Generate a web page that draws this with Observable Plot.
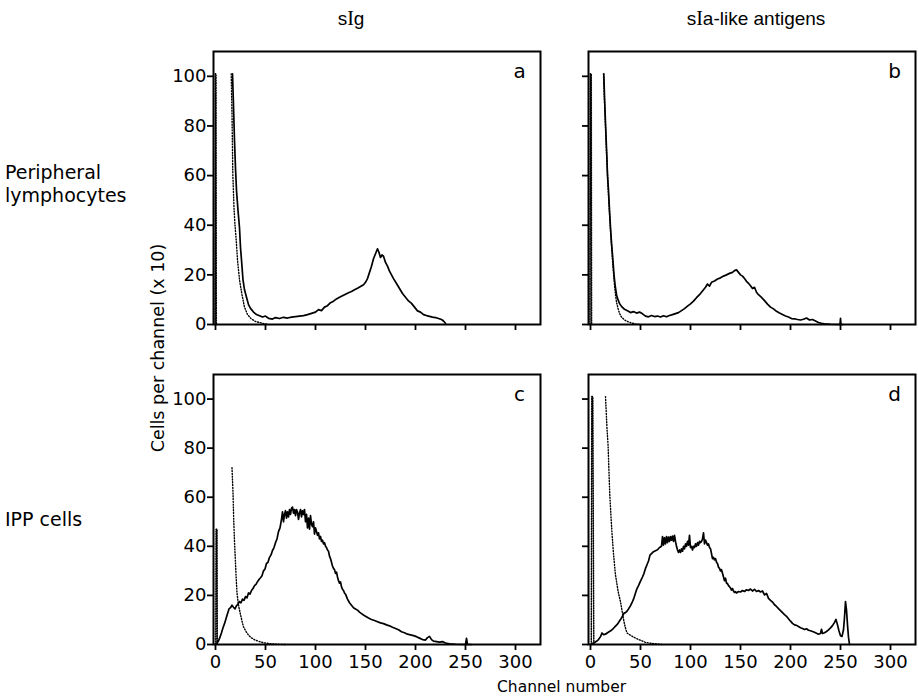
<!DOCTYPE html>
<html>
<head>
<meta charset="utf-8">
<script src="https://cdn.jsdelivr.net/npm/d3@7"></script>
<script src="https://cdn.jsdelivr.net/npm/@observablehq/plot@0.6"></script>
<style>
  html, body { margin: 0; padding: 0; background: #fff; }
  #fig { position: relative; width: 918px; height: 696px; overflow: hidden; font-family: "DejaVu Sans", sans-serif; color: #000; }
  .lbl { position: absolute; white-space: nowrap; line-height: 1; }
  .panel { position: absolute; }
</style>
</head>
<body>
<div id="fig">
  <div class="lbl" style="left:351px; top:18px; transform:translate(-50%,-50%); font-family:'Liberation Sans'; font-size:19px;">s<span style="font-family:'Liberation Serif'; font-size:20px;">I</span>g</div>
  <div class="lbl" style="left:756px; top:18px; transform:translate(-50%,-50%); font-family:'Liberation Sans'; font-size:19px;">s<span style="font-family:'Liberation Serif'; font-size:20px;">I</span>a-like antigens</div>
  <div class="lbl" style="left:5px; top:161px; font-size:19px; line-height:23px;">Peripheral<br>lymphocytes</div>
  <div class="lbl" style="left:5px; top:510px; font-size:19px;">IPP cells</div>
  <div class="lbl" style="left:159px; top:348px; transform:translate(-50%,-50%) rotate(-90deg); font-size:17.5px;">Cells per channel (x 10)</div>
  <div class="lbl" style="left:497px; top:680px; font-size:15.5px;">Channel number</div>
</div>
<script>
// ---- data (channel number, cells per channel x10) ----
const xTicks = [0, 50, 100, 150, 200, 250, 300];
const yTicks = [0, 20, 40, 60, 80, 100];
const panelLetters = ["a", "b", "c", "d"];

const aSolid = [[17,101],[18,88],[19,74],[20,63],[21,54],[22.5,46],[24,39],[25,31],[26,26],[27.5,18],[29,14],[31,11],[33,8],[35,6.5],[38,5],[41,4],[44,3.5],[47,3],[50,3.4],[53,2.5],[57,2.2],[60,2.8],[64,2.4],[68,2.9],[72,2.6],[76,3],[80,3.2],[84,3.4],[88,3.6],[92,4],[96,4.5],[100,5],[103,6],[106,5.6],[109,7],[112,7.6],[115,8.8],[118,9.4],[121,10.3],[124,11],[127,11.6],[130,12.2],[133,12.8],[136,13.3],[139,14],[142,14.6],[145,15.3],[148,16],[150,17],[152,18.5],[154,21],[156,23.5],[158,26.5],[160,28.5],[162,30.5],[163.5,29],[165,27],[166.5,28],[168,27.5],[170,25],[172,23.5],[174,21.5],[176,20],[178,18.5],[181,16.5],[184,14.5],[187,12.5],[190,11],[193,9.5],[196,8.5],[199,7],[202,5.5],[205,5],[208,4],[211,3.6],[214,3.3],[217,3],[220,2.8],[223,2.4],[226,2],[228,1.4],[230,0.5]];
const aDot = [[15.7,101],[16.5,85],[17.3,61],[18.5,47],[19.5,40],[20.7,34],[22,26],[24,18],[26.5,12],[29,7],[32,4],[35.7,2.3],[40,1.2],[47,0.5],[52,0]];
const aSpike = [[-0.5,0],[-0.2,101],[0.5,101],[0.8,0]];

const bSolid = [[13.3,101],[14,92],[15,81],[16.3,68],[17,60],[18,54],[19,46],[20,39],[21,33],[22.3,26.5],[23.5,20],[24.7,15.6],[26,12],[27.3,10.2],[29,8.5],[31,7.3],[34,6.1],[37,5.5],[40,4.8],[43,5.2],[46,4.6],[49,5],[52,4.3],[55,3.4],[58,3.1],[61,3.6],[64,3.2],[67,3.4],[70,3],[73,3.5],[76,3.1],[79,3.6],[82,4],[85,4.4],[88,4.8],[91,5.6],[94,6.4],[97,7.4],[100,8.3],[103,9.4],[106,10.8],[109,12],[112,13.5],[115,15],[117,16.3],[119,15.5],[121,17],[124,17.5],[127,18.3],[130,18.8],[133,19.5],[136,20],[139,20.6],[142,21],[144,21.7],[146,22],[148,21],[150,20],[152,19.5],[154,18.5],[156,17.4],[158,16.6],[160,15.6],[162,14.5],[164,15],[166,13],[168,12],[171,10.9],[174,9.6],[177,8.2],[180,7],[183,6.3],[186,5.3],[189,4.6],[192,4],[195,3.4],[198,3],[201,2.4],[204,2.3],[207,2],[210,1.8],[213,2.1],[216,2.6],[219,1.8],[222,2],[225,1.4],[228,0.8],[231,0.5],[234,0.3],[240,0.1],[248,0],[249.5,0],[250,2.5],[250.5,0],[252,0]];
const bDot = [[13,101],[14,90],[15,80],[16,70],[17,61],[18,52],[19,45],[20,38],[21,32],[22,26],[23,21],[24,16],[25,12],[26,9],[27.5,6.5],[29,4.5],[31,3],[34,1.8],[37,1.2],[41,0.6],[45,0.2],[50,0]];
const bSpike = [[-0.5,0],[-0.2,101],[0.8,101],[1.1,0]];

const cSolid = [[0,0],[1.5,0.5],[3,1.5],[4.5,3],[6,4.8],[7.5,6.8],[9,8.5],[10.5,10.5],[12,12.5],[13.5,14.5],[15,15],[16.5,16],[18,15.2],[19.5,14.5],[21,15.8],[22.5,16.5],[24,17.5],[25.5,17],[27,18.5],[28.5,18],[30,19.5],[31.5,19],[33,21],[34.5,20.5],[36,22],[37.5,22.8],[39,24],[40.5,24.5],[42,25.6],[43.5,26.5],[45,27.2],[46.5,28],[48,30],[49.5,30.8],[51,33],[52.5,33.5],[54,35.5],[55.5,36.5],[57,38.3],[58.5,39.5],[60,41.5],[61.5,43],[63,46],[64.5,47.5],[66,51],[67,54],[68,50],[69,53],[70,54.5],[71,51.5],[72,54],[73,52],[74,55],[75,53],[76,55.5],[77,56],[78,53.5],[79,55],[80,52.5],[81,55],[82,54],[83,51],[84,53.5],[85,55],[86,52],[87,54.5],[88,53],[89,55],[90,50],[91,53],[92,47.5],[93,51.5],[94,47],[95,52.5],[96,49],[97,48],[98,50],[99,45],[100,47.5],[101,46],[102,44.5],[103,45.5],[104,43],[105,44],[106,42],[107,42.5],[108,41],[109,41.5],[110,40],[111,39.5],[112,38.5],[113,38],[114,36],[115,35],[116,33.5],[117,32],[118,31],[119,30.5],[120,29],[121,29.5],[122,27.5],[123,26],[124,25],[125,25.5],[126,23.5],[127,22.5],[128,22],[129,21],[130,20.5],[131,19.5],[132,18.5],[134,17],[136,16],[138,15],[140,14.5],[142,14],[144,13.2],[146,12.6],[148,12],[150,11.5],[153,10.8],[156,10.2],[159,9.8],[162,9.3],[165,8.8],[168,8.5],[171,8],[174,7.6],[177,7],[180,6.5],[183,6],[186,5.2],[189,4.8],[192,4.2],[195,3.9],[198,3.6],[201,3.2],[204,2.6],[207,2],[210,1.8],[212,2.8],[214,3.3],[216,2],[218,1.4],[221,1.2],[224,1],[227,1.2],[230,0.6],[234,0.3],[240,0.1],[250,0],[251,2.5],[252,0],[256,0]];
const cDot = [[16.5,72],[17.5,62],[18.2,51],[19,42],[19.9,34],[20.7,27],[21.5,21],[23,16],[24.8,12.6],[26.5,9.5],[28,7.2],[30.5,5.3],[33,3.8],[36,2.7],[39.7,1.8],[44,1.2],[48,0.7],[55,0.3],[61,0.1],[70,0]];
const cSpike = [[0.3,0],[0.6,47],[1.5,47],[1.8,0]];

const dSolid = [[0,0],[2,0.4],[4,0.8],[6,1.3],[8,2],[10,3.2],[11.5,4.7],[13,4],[15,4.2],[17,4.8],[19,5.3],[21,5.8],[23,6.6],[25,7.5],[27,8.3],[29,9.6],[30.5,10.5],[32,11.5],[33.5,12.8],[35,13],[36.5,13.6],[38,14.5],[40,15.8],[42,17.5],[43.5,19],[45,21],[46.5,22.8],[48,24],[50,25.8],[52,27.5],[53.5,29],[55,31],[56.5,32.5],[58,34],[59.5,36.4],[61,37],[63,37.8],[65,38.2],[67,38.6],[69,39.5],[71,40],[72,44],[73,40.5],[74,43.5],[75,41],[76,44],[77,41.5],[78,43.8],[79,42],[80,44],[81,42.5],[82,44.2],[83,42],[84,44.5],[85,42],[86,40],[87,38.5],[88,37.5],[89,38.5],[90,37.5],[91,39],[92,38],[93,40],[94,39],[95,41],[96,40],[97,42],[98,40.5],[99,44.5],[100,39.5],[101,40],[102,38.5],[103,40],[104,39.5],[105,41],[106,40],[107,41.5],[108,40.5],[109,42],[110,41.5],[111,42],[112,43],[113,45.5],[114,41],[115,42.5],[116,41.5],[117,40.5],[118,41],[119,39.5],[120,39],[121,37],[122,35],[123,35.5],[124,34.5],[125,35],[126,33.5],[127,33],[128,31.5],[129,31],[130,30],[131,30.5],[132,29],[133,27.5],[134,26],[135,27],[136,25],[137,24.8],[138,24],[139,23.5],[140,23],[141,22.2],[142,22.8],[143,21.8],[144,21.2],[145,21.5],[146,21],[148,21.6],[150,21.4],[152,22],[154,21.6],[156,22.3],[158,22],[160,22.6],[162,21.8],[164,22.5],[166,21.6],[168,22],[170,21.4],[172,21.8],[174,20.2],[176,20.8],[178,18.8],[180,18],[182,17.3],[184,16.2],[186,15.5],[188,14.6],[190,13.8],[192,13],[194,12.2],[196,11.5],[198,10.5],[200,9.5],[202,8.6],[204,8],[206,7.8],[208,7.3],[210,6.8],[212,6.5],[214,6.1],[216,6.4],[218,5.8],[220,5.6],[222,5.3],[224,5],[226,4.6],[228,4.2],[230,4.5],[231,6.2],[232,4.5],[234,4.8],[236,5.3],[238,6],[240,6.8],[242,7.7],[244,9],[245.5,10.2],[247,8],[248.5,5.5],[250,3.6],[251.5,3.3],[253,6],[254,11],[255,17.5],[256,14],[257,8],[258,3],[259,0]];
const dDot = [[15,101],[16.5,88],[17.6,81],[18.5,70],[19.3,61],[20.5,52],[21.6,44.7],[23,37],[24.9,28.5],[26.3,25],[27.6,21.7],[28.8,19.5],[29.9,17.6],[31,15],[32.2,12.2],[33.5,9.3],[34.9,6.8],[36.5,4.7],[39,4],[41.5,3.4],[45,2.6],[48.2,2],[52,1.4],[54.8,0.9],[60,0.5],[64.8,0.3],[71.4,0]];
const dSpike = [[0.8,0],[1.3,101],[2.3,101],[3.3,0]];

// ---- layout ----
const fig = document.getElementById("fig");
const FRAME_W = 327;
const mL = 60, mR = 4, mT = 6, mB = 40;

function panel(cfg) {
  const svg = Plot.plot({
    width: mL + FRAME_W + mR,
    height: mT + cfg.frameH + mB,
    marginLeft: mL, marginRight: mR, marginTop: mT, marginBottom: mB,
    x: {domain: [-2, 325]},
    y: {domain: [0, 110]},
    style: {fontFamily: "DejaVu Sans", fontSize: "18px", color: "black", background: "transparent", overflow: "visible"},
    marks: [
      Plot.axisX({ticks: xTicks, tickSize: 6, tickPadding: 5, strokeWidth: 1.8,
        tickFormat: cfg.showX ? (d => String(d)) : (() => ""), label: null}),
      Plot.axisY({ticks: yTicks, tickSize: 6, tickPadding: 1, strokeWidth: 1.8,
        tickFormat: cfg.showY ? (d => String(d)) : (() => ""), label: null}),
      Plot.line(cfg.spike, {x: d => d[0], y: d => d[1], stroke: "black", strokeWidth: 1.5, strokeDasharray: "1,1.5"}),
      Plot.line(cfg.dot, {x: d => d[0], y: d => d[1], stroke: "black", strokeWidth: 1.4, strokeDasharray: "1,1.8"}),
      Plot.line(cfg.solid, {x: d => d[0], y: d => d[1], stroke: "black", strokeWidth: 1.7}),
      Plot.frame({stroke: "black", strokeWidth: 2}),
      Plot.text([cfg.letter], {frameAnchor: "top-right", dx: -21, dy: 20, textAnchor: "middle", lineAnchor: "middle", fontSize: 20, fill: "black"})
    ]
  });
  svg.classList.add("panel");
  svg.style.left = (cfg.frameLeft - mL) + "px";
  svg.style.top = (cfg.frameTop - mT) + "px";
  fig.appendChild(svg);
}

panel({solid: aSolid, dot: aDot, spike: aSpike, letter: panelLetters[0], showX: false, showY: true, frameLeft: 213, frameTop: 51, frameH: 273});
panel({solid: bSolid, dot: bDot, spike: bSpike, letter: panelLetters[1], showX: false, showY: false, frameLeft: 588, frameTop: 51, frameH: 273});
panel({solid: cSolid, dot: cDot, spike: cSpike, letter: panelLetters[2], showX: true, showY: true, frameLeft: 213, frameTop: 374, frameH: 270});
panel({solid: dSolid, dot: dDot, spike: dSpike, letter: panelLetters[3], showX: true, showY: false, frameLeft: 588, frameTop: 374, frameH: 270});
</script>
</body>
</html>
